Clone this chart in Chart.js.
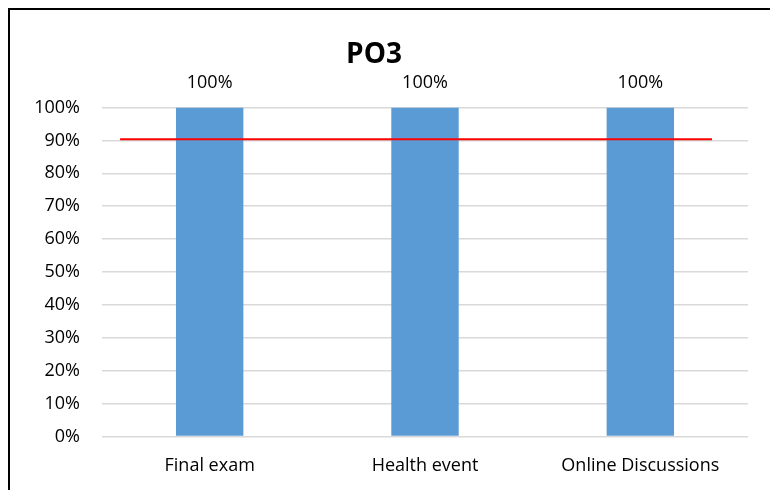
<!DOCTYPE html>
<html>
<head>
<meta charset="utf-8">
<script src="https://cdn.jsdelivr.net/npm/chart.js@4"></script>
<style>
  html, body { margin: 0; padding: 0; background: #fff; }
  #wrap { position: relative; width: 770px; height: 490px; }
  #frame {
    position: absolute; left: 8px; top: 8px; right: -10px; bottom: -10px;
    border-left: 2px solid #000; border-top: 2px solid #000;
    pointer-events: none;
  }
</style>
</head>
<body>
<div id="wrap">
  <canvas id="chart" width="770" height="490"></canvas>
  <div id="frame"></div>
</div>
<script>
// chart data
const categories = ['Final exam', 'Health event', 'Online Discussions'];
const scores = [100, 100, 100];
const yTicks = [0, 10, 20, 30, 40, 50, 60, 70, 80, 90, 100];
// target line (x in category index units)
const targetX = [-0.416, 2.333];
const targetY = [90.4, 90.4];

const fontFamily = '"Open Sans", sans-serif';

// labels above the bars
const barLabels = {
    id: 'barLabels',
    afterDatasetsDraw(chart) {
        const ctx = chart.ctx;
        const meta = chart.getDatasetMeta(0);
        ctx.save();
        ctx.fillStyle = '#000';
        ctx.font = '18px ' + fontFamily;
        ctx.textAlign = 'center';
        ctx.textBaseline = 'bottom';
        meta.data.forEach(function (bar, i) {
            ctx.fillText(scores[i] + '%', bar.x, bar.y - 16);
        });
        ctx.restore();
    }
};

new Chart(document.getElementById('chart'), {
    data: {
        labels: categories,
        datasets: [
            {
                type: 'bar',
                data: scores,
                backgroundColor: '#5B9BD5',
                barPercentage: 0.313,
                categoryPercentage: 1,
                grouped: false,
                order: 2
            },
            {
                type: 'line',
                xAxisID: 'x2',
                data: targetX.map((x, i) => ({ x: x, y: targetY[i] })),
                borderColor: '#FF0000',
                borderWidth: 2,
                pointRadius: 0,
                fill: false,
                order: 1
            }
        ]
    },
    options: {
        responsive: false,
        animation: false,
        layout: { padding: { left: 0, right: 22, top: 0, bottom: 2 } },
        plugins: {
            legend: { display: false },
            tooltip: { enabled: false },
            title: {
                display: true,
                text: 'PO3',
                color: '#000',
                font: { family: fontFamily, size: 28, weight: 'bold' },
                padding: { top: 38, bottom: 36 }
            }
        },
        scales: {
            x: {
                type: 'category',
                offset: true,
                grid: { display: false },
                border: { display: false },
                ticks: {
                    color: '#000',
                    padding: 11,
                    maxRotation: 0,
                    font: { family: fontFamily, size: 18 }
                }
            },
            x2: {
                type: 'linear',
                display: false,
                min: -0.5,
                max: categories.length - 0.5
            },
            y: {
                min: 0,
                max: 100,
                afterBuildTicks(scale) {
                    scale.ticks = yTicks.map(v => ({ value: v }));
                },
                afterFit(scale) { scale.width = 102; },
                grid: { color: '#D9D9D9', lineWidth: 1.5, drawTicks: false },
                border: { display: false },
                ticks: {
                    color: '#000',
                    padding: 22,
                    font: { family: fontFamily, size: 18 },
                    callback: v => v + '%'
                }
            }
        }
    },
    plugins: [barLabels]
});
</script>
</body>
</html>
